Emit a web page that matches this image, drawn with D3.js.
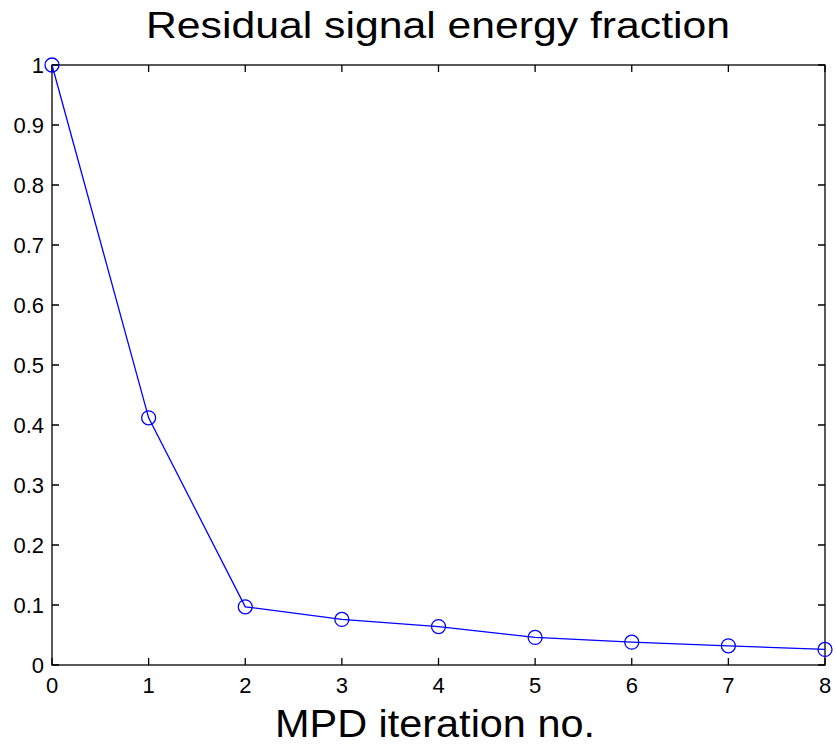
<!DOCTYPE html>
<html>
<head>
<meta charset="utf-8">
<script src="https://cdn.jsdelivr.net/npm/d3@7"></script>
<style>
  body { margin: 0; background: #fff; }
  svg { font-family: "Liberation Sans", Arial, sans-serif; }
</style>
</head>
<body>
<svg id="chart" width="836" height="747"></svg>
<script>
// data
const iterations = [0, 1, 2, 3, 4, 5, 6, 7, 8];
const energyFraction = [1.0, 0.412, 0.097, 0.076, 0.064, 0.046, 0.038, 0.032, 0.026];
const xTicks = [0, 1, 2, 3, 4, 5, 6, 7, 8];
const yTicks = [0, 0.1, 0.2, 0.3, 0.4, 0.5, 0.6, 0.7, 0.8, 0.9, 1];

const svg = d3.select('#chart');
const margin = { top: 65, right: 11, bottom: 82, left: 52 };
const width = 836 - margin.left - margin.right;
const height = 747 - margin.top - margin.bottom;

const x = d3.scaleLinear().domain([0, 8]).range([0, width]);
const y = d3.scaleLinear().domain([0, 1]).range([height, 0]);

const g = svg.append('g').attr('transform', `translate(${margin.left},${margin.top})`);

// box
g.append('rect')
  .attr('width', width).attr('height', height)
  .attr('fill', 'none').attr('stroke', '#000').attr('stroke-width', 1.3);

const tickLen = 7;
const fmt = d => d === 0 || d === 1 ? String(d) : d3.format('.1f')(d);

// x ticks bottom & top (inward)
g.selectAll('.xt').data(xTicks).enter().append('path')
  .attr('d', d => `M${x(d)},${height}V${height - tickLen}M${x(d)},0V${tickLen}`)
  .attr('stroke', '#000').attr('stroke-width', 1.3);
g.selectAll('.xl').data(xTicks).enter().append('text')
  .attr('x', d => x(d)).attr('y', height + 28)
  .attr('text-anchor', 'middle').attr('font-size', 22)
  .text(d => d);

// y ticks left & right (inward)
g.selectAll('.yt').data(yTicks).enter().append('path')
  .attr('d', d => `M0,${y(d)}H${tickLen}M${width},${y(d)}H${width - tickLen}`)
  .attr('stroke', '#000').attr('stroke-width', 1.3);
g.selectAll('.yl').data(yTicks).enter().append('text')
  .attr('x', -8).attr('y', d => y(d) + 8)
  .attr('text-anchor', 'end').attr('font-size', 22)
  .text(fmt);

// line
const line = d3.line().x((d, i) => x(iterations[i])).y(d => y(d));
g.append('path')
  .datum(energyFraction)
  .attr('d', line)
  .attr('fill', 'none').attr('stroke', '#0000ff').attr('stroke-width', 1.3);

g.selectAll('.mk').data(energyFraction).enter().append('circle')
  .attr('cx', (d, i) => x(iterations[i])).attr('cy', d => y(d))
  .attr('r', 7)
  .attr('fill', 'none').attr('stroke', '#0000ff').attr('stroke-width', 1.3);

// title and label
svg.append('text')
  .attr('x', 438).attr('y', 38)
  .attr('text-anchor', 'middle').attr('font-size', 36)
  .attr('textLength', 584).attr('lengthAdjust', 'spacingAndGlyphs')
  .text('Residual signal energy fraction');
svg.append('text')
  .attr('x', 435).attr('y', 737)
  .attr('text-anchor', 'middle').attr('font-size', 38)
  .attr('textLength', 320).attr('lengthAdjust', 'spacingAndGlyphs')
  .text('MPD iteration no.');
</script>
</body>
</html>
